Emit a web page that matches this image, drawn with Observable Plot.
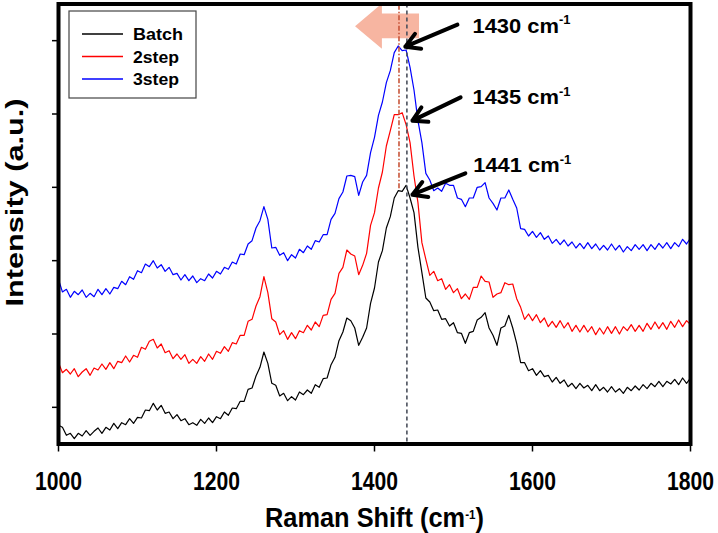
<!DOCTYPE html>
<html><head><meta charset="utf-8">
<script src="https://cdn.jsdelivr.net/npm/d3@7"></script>
<script src="https://cdn.jsdelivr.net/npm/@observablehq/plot@0.6"></script>
<style>
body{margin:0;background:#fff;}
#wrap{position:relative;width:718px;height:533px;}
</style></head><body><div id="wrap"></div>
<script>
// Raman shift sampling (cm-1): 1000 .. 1800, every 5
const shiftStart = 1000, shiftStep = 5;
// Intensities (a.u.)
const batch = [28,25,13,16,8,16,12,20,13,19,24,16,25,21,31,23,32,29,38,31,40,39,51,50,61,51,58,46,48,38,44,35,38,29,32,28,37,31,39,32,41,38,48,43,54,53,64,64,82,84,102,115,138,121,91,88,72,76,65,71,66,78,74,81,76,89,85,98,99,119,130,155,168,189,185,174,148,160,174,211,234,273,290,324,341,369,380,379,388,369,347,295,257,219,213,200,201,187,188,177,182,167,166,151,167,169,186,190,197,174,163,148,174,177,193,174,151,122,122,110,113,103,110,101,103,93,100,91,96,86,91,83,91,84,88,80,89,80,85,78,86,78,83,76,85,80,87,81,89,83,91,86,94,86,94,90,97,89,99,91,99];
const step2 = [122,107,112,105,113,101,108,113,103,114,111,120,112,122,113,124,122,132,123,133,130,145,142,154,157,144,150,137,140,128,135,127,134,121,127,121,131,124,135,127,139,136,146,139,152,150,163,163,184,187,207,221,251,227,188,183,164,170,157,167,158,170,167,178,171,183,176,193,194,217,226,256,265,291,285,282,254,268,286,328,347,384,408,447,470,494,494,497,479,452,402,362,302,277,253,259,245,248,232,239,227,233,218,225,217,235,235,252,244,243,220,225,227,242,239,240,218,205,187,195,185,194,182,189,176,184,175,185,174,182,169,178,168,178,168,176,164,174,165,176,166,176,165,176,170,179,169,178,169,181,172,183,173,182,172,184,175,186,176,185,179];
const step3 = [247,228,232,220,229,224,231,220,226,221,232,224,233,225,235,233,244,239,251,247,260,257,270,266,275,264,269,259,265,254,256,246,254,245,252,242,248,245,255,249,259,255,265,262,273,270,285,284,300,305,324,335,356,337,294,295,283,287,275,284,279,292,287,297,292,305,303,314,314,337,346,368,378,402,403,401,373,393,403,437,460,493,513,542,560,587,597,590,591,565,531,485,452,406,396,380,384,379,391,388,388,369,367,356,369,369,385,386,392,369,361,351,369,369,381,367,354,323,322,312,319,310,317,307,312,301,307,299,306,297,303,294,301,293,302,293,300,291,298,291,300,291,298,288,296,290,299,292,299,290,299,292,301,294,302,293,302,296,307,300,309];
const seriesNames = ["Batch", "2step", "3step"];
const seriesColors = ["#000000", "#ff0000", "#0000ff"];
const xTicks = [1000, 1200, 1400, 1600, 1800];
const yTicks = [55, 165, 275, 385, 495, 605];
// peak annotations
const peakLabels = ["1430 cm-1", "1435 cm-1", "1441 cm-1"];
const peakLabelX = [1524, 1524, 1525];
const peakLabelY = [627, 520, 418];
const arrowFromX = [1505, 1509, 1515];
const arrowFromY = [629, 520, 406];
const arrowToX = [1439, 1448, 1448];
const arrowToY = [596, 485, 374];
// reference lines
const redLineShift = 1431, redLineFrom = 383;
const grayLineShift = 1441;
// big shift arrow outline (x, low, high)
const shiftArrowX = [1376, 1410, 1410, 1457];
const shiftArrowLo = [626, 592, 608, 608];
const shiftArrowHi = [626, 660, 645, 645];

const allSeries = [batch, step2, step3];
const rows = [];
allSeries.forEach((vals, k) => vals.forEach((v, i) => rows.push({shift: shiftStart + i * shiftStep, intensity: v, series: seriesNames[k]})));
const arrowShape = shiftArrowX.map((x, i) => ({x, lo: shiftArrowLo[i], hi: shiftArrowHi[i]}));
const peaks = peakLabels.map((t, i) => ({t, x: peakLabelX[i], y: peakLabelY[i]}));
const arrows = arrowFromX.map((x, i) => ({x1: x, y1: arrowFromY[i], x2: arrowToX[i], y2: arrowToY[i]}));

const font = "'Liberation Sans', Arial, Helvetica, sans-serif";
const chart = Plot.plot({
  width: 718, height: 533,
  marginLeft: 58, marginRight: 28, marginTop: 3.5, marginBottom: 89.5,
  x: {domain: [1000, 1800], label: null},
  y: {domain: [0, 660], label: null},
  style: {fontFamily: font, fontWeight: "bold", background: "white", color: "black"},
  marks: [
    Plot.areaY(arrowShape, {x: "x", y1: "lo", y2: "hi", fill: "#f7b5a1", curve: "linear"}),
    ...[2, 1, 0].map(k => Plot.line(rows.filter(d => d.series === seriesNames[k]), {x: "shift", y: "intensity", stroke: seriesColors[k], strokeWidth: 1.2})),
    Plot.ruleX([redLineShift], {x: d => d, y1: redLineFrom, y2: 660, stroke: "#c8553a", strokeWidth: 1.6, strokeDasharray: "5,2,1.5,2"}),
    Plot.ruleX([grayLineShift], {x: d => d, stroke: "#4b505c", strokeWidth: 1.6, strokeDasharray: "4,3"}),
    Plot.frame({stroke: "black", strokeWidth: 4}),
    Plot.axisX({ticks: xTicks, tickSize: 8, tickPadding: 20, fontSize: 26, fontWeight: "bold", strokeWidth: 1.5, tickFormat: d => `${d}`, label: null}),
    Plot.axisY({ticks: yTicks, tickSize: 6, tickFormat: () => "", strokeWidth: 1.5, label: null}),
    Plot.arrow(arrows, {x1: "x1", y1: "y1", x2: "x2", y2: "y2", stroke: "black", strokeWidth: 4, headLength: 6, headAngle: 60}),
    Plot.text(peaks, {x: "x", y: "y", text: "t", textAnchor: "start", fontSize: 21, fontWeight: "bold", fill: "black"}),
    Plot.text(["Raman Shift (cm-1)"], {frameAnchor: "bottom", text: d => d, textAnchor: "middle", dy: 74.5, fontSize: 27, fontWeight: "bold", lineAnchor: "middle", fill: "black"}),
    Plot.text(["Intensity (a.u.)"], {frameAnchor: "left", text: d => d, textAnchor: "middle", rotate: -90, dx: -43, dy: -21.5, fontSize: 24, fontWeight: "bold", lineAnchor: "middle", fill: "black"})
  ]
});

// text stretching + superscripts
const lengths = {"Raman Shift (cm-1)": 219, "Intensity (a.u.)": 208, "1430 cm-1": 98, "1435 cm-1": 98, "1441 cm-1": 98};
chart.querySelectorAll("text").forEach(t => {
  const s = t.textContent;
  let L = lengths[s];
  if (/^\d{4}$/.test(s)) L = 47;
  if (L) { t.setAttribute("textLength", L); t.setAttribute("lengthAdjust", "spacingAndGlyphs"); }
  const m = s.match(/^(.*cm)-1(\)?)$/);
  if (m) {
    const fs = parseFloat(t.getAttribute("font-size")) || 20;
    while (t.firstChild) t.removeChild(t.firstChild);
    const ns = "http://www.w3.org/2000/svg";
    const a = document.createElementNS(ns, "tspan"); a.textContent = m[1]; t.appendChild(a);
    const b = document.createElementNS(ns, "tspan"); b.textContent = "-1"; b.setAttribute("dy", -0.42 * fs); b.setAttribute("font-size", 0.62 * fs); t.appendChild(b);
    if (m[2]) { const c = document.createElementNS(ns, "tspan"); c.textContent = m[2]; c.setAttribute("dy", 0.42 * fs); t.appendChild(c); }
  }
});

// legend
const lg = d3.select(chart).append("g").attr("font-family", font).attr("font-weight", "bold").attr("text-anchor", "start");
lg.append("rect").attr("x", 69).attr("y", 11).attr("width", 127).attr("height", 87).attr("fill", "white").attr("stroke", "#444").attr("stroke-width", 1.2);
const legendLens = [50, 46, 46];
seriesNames.forEach((name, k) => {
  const yy = 34 + k * 22.5;
  lg.append("line").attr("x1", 82).attr("x2", 123).attr("y1", yy).attr("y2", yy).attr("stroke", seriesColors[k]).attr("stroke-width", 1.5);
  lg.append("text").attr("x", 133).attr("y", yy + 6).attr("font-size", 16.5).attr("fill", "black").attr("text-anchor", "start")
    .attr("textLength", legendLens[k]).attr("lengthAdjust", "spacingAndGlyphs").text(name);
});

document.getElementById("wrap").appendChild(chart);
</script></body></html>
